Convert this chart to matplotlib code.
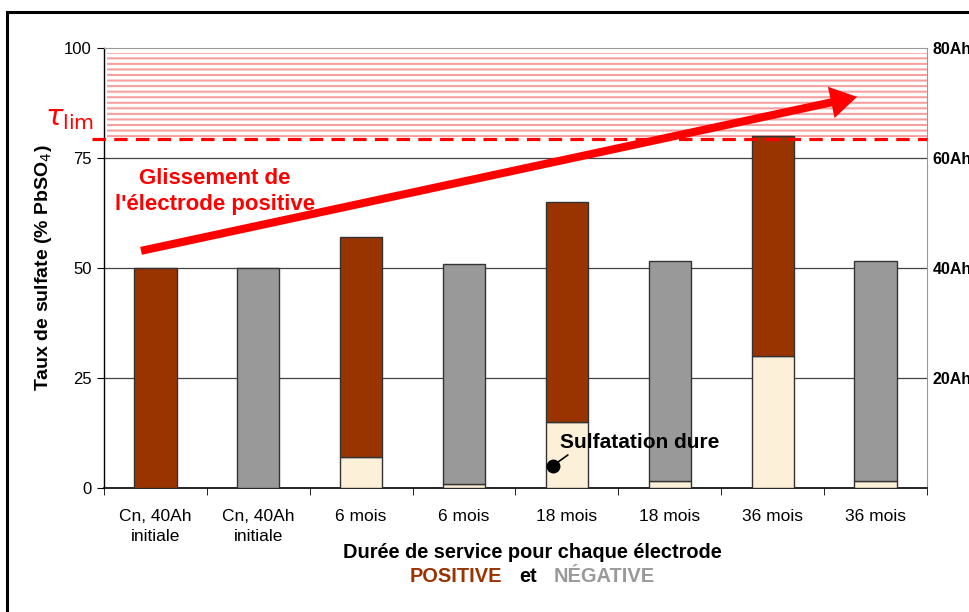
import matplotlib.pyplot as plt
from matplotlib.patches import Rectangle, FancyArrowPatch
import numpy as np

plt.rcParams['font.family'] = ['Liberation Sans', 'DejaVu Sans']
plt.rcParams['mathtext.fontset'] = 'dejavusans'
plt.rcParams['hatch.linewidth'] = 1.5

# electrode data: hard sulfation (base) and total sulfate rate
categories = ['Cn, 40Ah\ninitiale', 'Cn, 40Ah\ninitiale', '6 mois', '6 mois',
              '18 mois', '18 mois', '36 mois', '36 mois']
electrode = ['pos', 'neg', 'pos', 'neg', 'pos', 'neg', 'pos', 'neg']
sulfate_dure = [0, 0, 7, 1, 15, 1.5, 30, 1.5]
sulfate_total = [50, 50, 57, 51, 65, 51.5, 80, 51.5]
tau_lim = 79.3
zone_top = 98.9
cap_ticks = [20, 40, 60, 80]

brown = '#993300'
grey = '#999999'
cream = '#fdf0d8'

fig = plt.figure(figsize=(9.7, 6.12), dpi=100)
ax = fig.add_axes([104/970, 1-488/612, 823/970, 440/612])

x = np.arange(len(categories))
top_cols = [brown if e == 'pos' else grey for e in electrode]
upper = [t - d for t, d in zip(sulfate_total, sulfate_dure)]

ax.bar(x, sulfate_dure, width=0.41, color=cream, edgecolor='#333333', linewidth=1.0, zorder=3)
ax.bar(x, upper, bottom=sulfate_dure, width=0.41, color=top_cols,
       edgecolor='#333333', linewidth=1.0, zorder=3)

ax.set_xlim(-0.5, 7.5)
ax.set_ylim(0, 100)
ax.set_yticks([0, 25, 50, 75, 100])
ax.tick_params(axis='y', labelsize=12, length=5, direction='out', pad=4)
ax.set_xticks(x)
ax.set_xticklabels(categories, fontsize=12.5, linespacing=1.45)
ax.tick_params(axis='x', which='major', length=0, pad=15)
ax.set_xticks(np.arange(-0.5, 8, 1), minor=True)
ax.tick_params(axis='x', which='minor', length=5, direction='out')

for v in [25, 50, 75]:
    ax.axhline(v, color='#444444', lw=0.9, zorder=1)
ax.spines['top'].set_color('#999999')
ax.spines['right'].set_color('#999999')
ax.spines['left'].set_linewidth(1.0)
ax.spines['bottom'].set_linewidth(1.2)

# limit zone above tau_lim
ax.axhspan(tau_lim + 0.5, zone_top, xmin=0.004, xmax=1, facecolor='white',
           edgecolor='#f6a0a0', hatch='---', linewidth=0, zorder=0)
ax.plot([-0.015, 1.0], [tau_lim, tau_lim], transform=ax.get_yaxis_transform(),
        color='#ff0000', lw=2.3, dashes=(4.2, 2.6), clip_on=False, zorder=4)
ax.text(-0.012, tau_lim + 1.5, r'$\tau_{\mathrm{lim}}$', transform=ax.get_yaxis_transform(),
        color='#ff0000', fontsize=21, ha='right', va='bottom')

# trend arrow of the positive electrode
arrow = FancyArrowPatch((-0.14, 53.9), (6.82, 88.9),
                        arrowstyle='simple,head_length=0.95,head_width=1.15,tail_width=0.29',
                        mutation_scale=20, color='#ff0000', lw=0, shrinkA=0, shrinkB=0, zorder=5)
ax.add_patch(arrow)
ax.text(0.58, 67.4, "Glissement de\nl'électrode positive", color='#ff0000', fontsize=16,
        fontweight='bold', ha='center', va='center', linespacing=1.35, zorder=6)

# hard sulfation callout
ax.annotate('Sulfatation dure', xy=(3.86, 5), xytext=(3.93, 10.3), fontsize=15,
            fontweight='bold', va='center', ha='left', zorder=6,
            arrowprops=dict(arrowstyle='-', color='black', lw=1.2, shrinkA=0, shrinkB=0,
                            relpos=(0.1, 0.15)))
ax.plot([3.86], [5], 'o', color='black', ms=9, zorder=7)

ax.set_ylabel('Taux de sulfate (% PbSO$_4$)', fontsize=14, fontweight='bold', labelpad=7)

# capacity scale on the right
ax2 = ax.twinx()
ax2.set_ylim(0, 80)
ax2.set_yticks(cap_ticks)
ax2.set_yticklabels([f'{c}Ah' for c in cap_ticks], fontsize=11.5, fontweight='bold')
ax2.tick_params(axis='y', length=0, pad=4)
for s in ax2.spines.values():
    s.set_visible(False)

fig.text(532/970, 1-552/612, 'Durée de service pour chaque électrode', fontsize=14.4,
         fontweight='bold', ha='center', va='center')
fig.text(456/970, 1-577/612, 'POSITIVE', color=brown, fontsize=14.4, fontweight='bold',
         ha='center', va='center')
fig.text(528/970, 1-577/612, 'et', color='black', fontsize=14.4, fontweight='bold',
         ha='center', va='center')
fig.text(604/970, 1-577/612, 'NÉGATIVE', color=grey, fontsize=14.4, fontweight='bold',
         ha='center', va='center')

# outer frame
fig.patches.append(Rectangle((7/970, -0.1), 1.2, 1-12/612+0.1, transform=fig.transFigure,
                             fill=False, edgecolor='black', lw=2.2))

fig.savefig('out.png', dpi=100)
